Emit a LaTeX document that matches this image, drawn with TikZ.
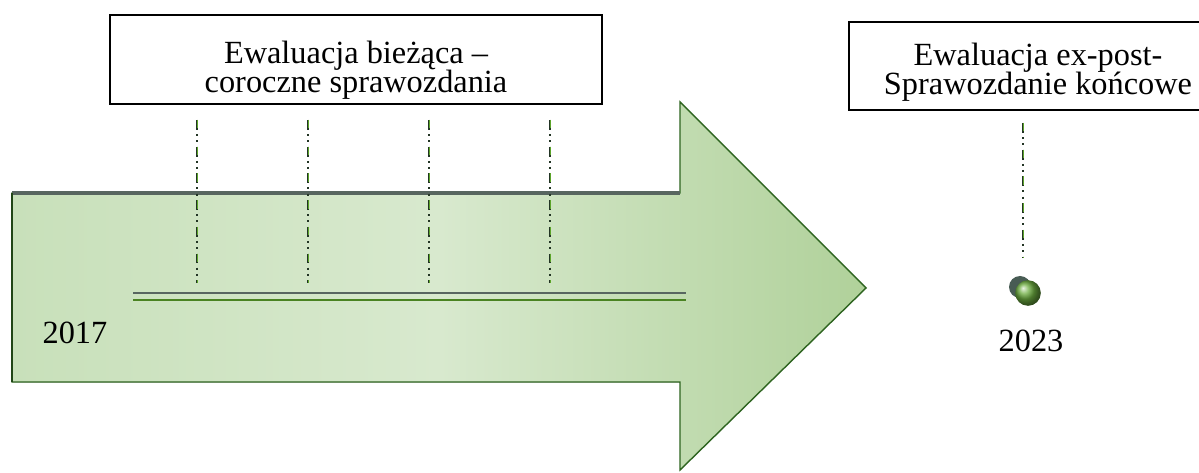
\documentclass[tikz,border=0pt]{standalone}
\usepackage{fontspec}
\setmainfont{Liberation Serif}
\usepackage{tikz}
\usetikzlibrary{positioning,calc,shadings}
\definecolor{arrowlight}{RGB}{216,233,206}
\definecolor{arrowmid}{RGB}{200,224,186}
\definecolor{arrowdark}{RGB}{176,209,154}
\definecolor{arrowedge}{RGB}{46,100,32}
\definecolor{shaftedge}{RGB}{88,102,96}
\definecolor{markdark}{RGB}{34,52,36}
\definecolor{markgreen}{RGB}{92,164,42}
\definecolor{dotgrey}{RGB}{72,92,84}
\newcommand{\boxfont}{\fontsize{23}{21}\selectfont}
\newcommand{\evalmark}[2]{\draw[markline] (#1) -- (#2); \draw[markgreenline] ([xshift=0.6pt]#1) -- ([xshift=0.6pt]#2);}

\begin{document}
\begin{tikzpicture}[x=0.025cm,y=-0.025cm,
  evalbox/.style={draw=black,line width=1pt,fill=white,inner sep=0pt},
  boxtext/.style={align=center,font=\boxfont,inner sep=0pt},
  yearlabel/.style={font=\boxfont,anchor=base,inner sep=0pt},
  markline/.style={markdark,line width=1.5pt,dash pattern=on 7pt off 3pt on 1.4pt off 3pt on 1.4pt off 3.2pt},
  markgreenline/.style={markgreen,line width=0.9pt,dash pattern=on 6pt off 13pt}]
\useasboundingbox[fill=white] (0,0) rectangle (1199,473);
% arrow
\fill[left color=arrowmid,right color=arrowdark,middle color=arrowlight]
  (12,193) -- (680,193) -- (680,102) -- (866,288) -- (680,470) -- (680,382) -- (12,382) -- cycle;
\draw[arrowedge,line width=1pt,line join=miter]
  (12,193) -- (680,193) -- (680,102) -- (866,288) -- (680,470) -- (680,382) -- (12,382) -- cycle;
\draw[shaftedge,line width=2.6pt] (12,193) -- (680,193);
\draw[arrowedge!70!black,line width=2pt] (12,193) -- (12,382);
% timeline
\coordinate (linestart) at (133,293);
\coordinate (lineend) at (686,293);
\draw[shaftedge,line width=1.2pt] (linestart) -- (lineend);
\draw[markgreen!80!black,line width=1.4pt] ([yshift=-5]linestart) -- ([yshift=-5]lineend);
% boxes
\node[evalbox,minimum width=12.3cm,minimum height=2.225cm] (biezaca) at (356,59.5) {};
\node[boxtext] (biezacatxt) at (356,70) {Ewaluacja bieżąca –\\coroczne sprawozdania};
\node[evalbox,minimum width=9.4cm,minimum height=2.2cm] (expost) at (1037,66) {};
\node[boxtext] (expostxt) at (1038,72) {Ewaluacja ex-post-\\Sprawozdanie końcowe};
% yearly marks
\foreach \i/\x in {1/197,2/308,3/429,4/550}{
  \coordinate (mt\i) at (\x,120);
  \coordinate (mb\i) at (\x,283);
  \evalmark{mt\i}{mb\i}
}
\coordinate (mt5) at (1023,123);
\coordinate (mb5) at (1023,258);
\evalmark{mt5}{mb5}
% end point
\node[circle,fill=dotgrey,minimum size=0.55cm,inner sep=0pt] (dotback) at (1020,287) {};
\node[circle,ball color=markgreen!90!white,minimum size=0.64cm,inner sep=0pt] (dotfront) at (1028,293) {};
\node[yearlabel] (start) at (75,343) {2017};
\node[yearlabel] (end) at (1031,351) {2023};
\end{tikzpicture}
\end{document}
